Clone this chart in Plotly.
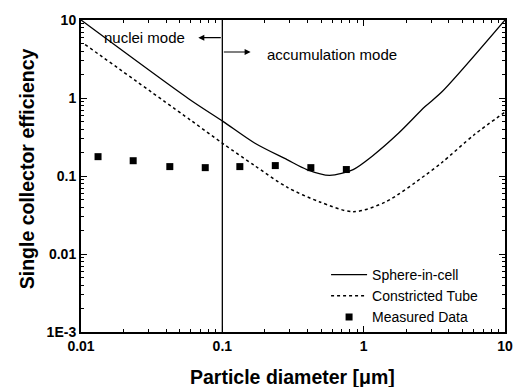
import plotly.graph_objects as go

# Sphere-in-cell model (solid)
sic_x = [0.01, 0.0577, 0.101, 0.169, 0.287, 0.396, 0.574, 0.843, 1.16, 1.77, 2.72, 3.58, 10.0]
sic_y = [10.0, 0.98, 0.502, 0.265, 0.162, 0.121, 0.102, 0.121, 0.182, 0.355, 0.776, 1.2, 10.0]

# Constricted tube model (dotted)
ct_x = [0.0107, 0.0596, 0.101, 0.169, 0.287, 0.489, 0.843, 1.43, 2.72, 3.58, 6.08, 10.0]
ct_y = [4.84, 0.52, 0.26, 0.136, 0.0718, 0.0465, 0.0348, 0.0465, 0.102, 0.149, 0.34, 0.66]

# Measured data
meas_x = [0.0132, 0.0234, 0.0425, 0.0757, 0.133, 0.237, 0.423, 0.754]
meas_y = [0.177, 0.157, 0.132, 0.128, 0.132, 0.136, 0.128, 0.121]

# mode boundary
boundary_x = [0.1, 0.1]
boundary_y = [0.001, 10]

y_tickvals = [0.001, 0.01, 0.1, 1, 10]
y_ticktext = ["1E-3", "0.01", "0.1", "1", "10"]
x_tickvals = [0.01, 0.1, 1, 10]
x_ticktext = ["0.01", "0.1", "1", "10"]

def minor_vals(lo, hi):
    out = []
    for e in range(lo, hi):
        for m in range(2, 10):
            out.append(m * 10.0 ** e)
    return out

FONT = "Liberation Sans, Arial"

fig = go.Figure()
fig.add_trace(go.Scatter(x=boundary_x, y=boundary_y, mode="lines", showlegend=False,
                         line=dict(color="black", width=1.3), hoverinfo="skip"))
fig.add_trace(go.Scatter(x=sic_x, y=sic_y, mode="lines", name="Sphere-in-cell",
                         line=dict(color="black", width=1.3, shape="spline", smoothing=0.8)))
fig.add_trace(go.Scatter(x=ct_x, y=ct_y, mode="lines", name="Constricted Tube",
                         line=dict(color="black", width=1.5, dash="dot", shape="spline", smoothing=0.8)))
fig.add_trace(go.Scatter(x=meas_x, y=meas_y, mode="markers", name="Measured Data",
                         marker=dict(symbol="square", size=7, color="black")))

ann_font = dict(family=FONT, size=15, color="black")
fig.add_annotation(x=-1.17, y=0.773, ax=-1.0, ay=0.773, xref="x", yref="y", axref="x", ayref="y",
                   text="", showarrow=True, arrowhead=2, arrowsize=1, arrowwidth=1.2, arrowcolor="black")
fig.add_annotation(x=-0.80, y=0.59, ax=-1.0, ay=0.59, xref="x", yref="y", axref="x", ayref="y",
                   text="", showarrow=True, arrowhead=2, arrowsize=1, arrowwidth=1.2, arrowcolor="black")
fig.add_annotation(x=-1.25, y=0.773, xref="x", yref="y", text="nuclei mode", showarrow=False,
                   xanchor="right", yanchor="middle", font=ann_font)
fig.add_annotation(x=-0.695, y=0.56, xref="x", yref="y", text="accumulation mode", showarrow=False,
                   xanchor="left", yanchor="middle", font=ann_font)

title_font = dict(family=FONT, size=19.5, color="black")
fig.add_annotation(x=0.498, y=-0.145, xref="paper", yref="paper", text="<b>Particle diameter [μm]</b>",
                   showarrow=False, xanchor="center", yanchor="middle", font=title_font)
fig.add_annotation(x=-0.128, y=0.524, xref="paper", yref="paper", text="<b>Single collector efficiency</b>",
                   showarrow=False, xanchor="center", yanchor="middle", textangle=-90, font=title_font)

tickfont = dict(family=FONT, size=14, color="black")

fig.update_xaxes(type="log", range=[-2, 1], tickvals=x_tickvals,
                 ticktext=["<b>%s</b>" % t for t in x_ticktext],
                 ticks="inside", ticklen=6, tickwidth=1, tickcolor="black",
                 showline=True, linecolor="black", linewidth=2, mirror="allticks",
                 tickfont=tickfont,
                 minor=dict(tickvals=minor_vals(-2, 1), ticks="inside", ticklen=3, tickcolor="black"))
fig.update_yaxes(type="log", range=[-3, 1], tickvals=y_tickvals,
                 ticktext=["<b>%s</b>" % t for t in y_ticktext],
                 ticks="inside", ticklen=6, tickwidth=1, tickcolor="black",
                 showline=True, linecolor="black", linewidth=2, mirror="allticks",
                 tickfont=tickfont,
                 minor=dict(tickvals=minor_vals(-3, 1), ticks="inside", ticklen=3, tickcolor="black"))

fig.update_layout(template="simple_white", width=525, height=387,
                  margin=dict(l=81, r=14, t=15, b=55),
                  legend=dict(x=0.578, y=0.234, xanchor="left", yanchor="top", bgcolor="rgba(0,0,0,0)",
                              font=dict(family=FONT, size=14, color="black"),
                              tracegroupgap=0, itemwidth=36),
                  showlegend=True)

fig.write_html("out.html")
